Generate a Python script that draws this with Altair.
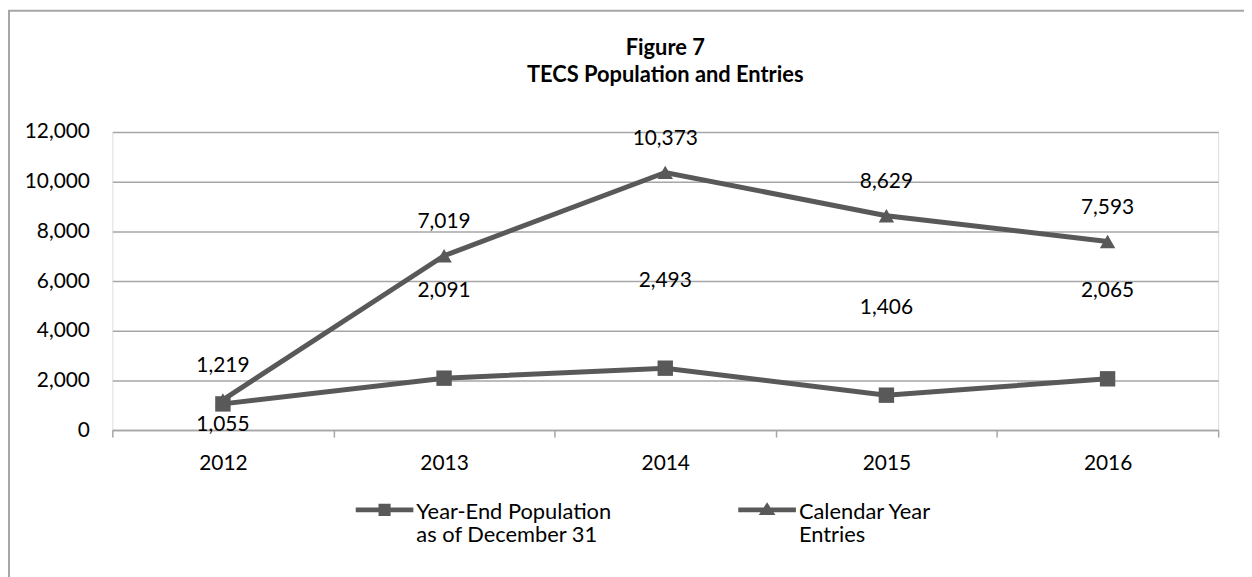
import altair as alt
import pandas as pd

# ---- data ----
years = ["2012", "2013", "2014", "2015", "2016"]
population = [1055, 2091, 2493, 1406, 2065]
entries = [1219, 7019, 10373, 8629, 7593]
series_names = ["Year-End Population as of December 31", "Calendar Year Entries"]
y_ticks = [0, 2000, 4000, 6000, 8000, 10000, 12000]
title_lines = ["Figure 7", "TECS Population and Entries"]

rows = []
for yr, p, e in zip(years, population, entries):
    rows.append({"year": yr, "series": series_names[0], "value": p})
    rows.append({"year": yr, "series": series_names[1], "value": e})
df = pd.DataFrame(rows)

FONT = "Lato"
GRAY = "#595959"
GRID = "#a6a6a6"
FS = 21

# legend symbols: a thick line with a marker on it, drawn as filled shapes
# (path units: 1 unit = 29 px)
SQ_PATH = "M-1,-0.146H1V0.026H-1Z M-0.21,-0.27H0.21V0.15H-0.21Z"
TRI_PATH = "M-1,-0.146H1V0.026H-1Z M0,-0.32L0.29,0.12H-0.29Z"

x = alt.X(
    "year:O", title=None, bandPosition=0.5,
    scale=alt.Scale(type="band", paddingInner=0, paddingOuter=0),
    axis=alt.Axis(labelAngle=0, tickBand="extent", domainColor=GRID, domainWidth=1.5,
                  tickColor=GRID, tickWidth=1.5, tickSize=7, labelPadding=16,
                  labelFontSize=FS, labelFont=FONT, labelColor="#000", grid=False),
)
y = alt.Y(
    "value:Q", title=None,
    scale=alt.Scale(domain=[0, 12000], nice=False),
    axis=alt.Axis(values=y_ticks, format=",d", domain=False, ticks=False, labelPadding=23,
                  gridColor=GRID, gridWidth=1.5, labelFontSize=FS, labelFont=FONT,
                  labelColor="#000"),
)

legend = alt.Legend(
    title=None, orient="none", legendX=245, legendY=353, direction="horizontal",
    labelExpr="datum.label == 'Calendar Year Entries' ? ['Calendar Year', 'Entries'] : ['Year-End Population', 'as of December 31']",
    labelFont=FONT, labelFontSize=22, labelColor="#000", labelLimit=0, labelOffset=3,
    labelBaseline="middle",
    symbolSize=3364, symbolStrokeWidth=0, symbolFillColor=GRAY,
    symbolOpacity=1, columnPadding=127, padding=0,
)

base = alt.Chart(df)

frame = alt.Chart(pd.DataFrame({"k": [0]})).mark_rect(
    color="transparent", stroke=GRID, strokeWidth=2, clip=False
).encode(x=alt.value(-104), y=alt.value(-122), x2=alt.value(1300), y2=alt.value(700))

lines = base.mark_line(strokeWidth=5, color=GRAY).encode(
    x=x, y=y, detail="series:N",
)

points = base.mark_point(filled=True, opacity=1, color=GRAY).encode(
    x=x, y=y,
    shape=alt.Shape("series:N", scale=alt.Scale(domain=series_names, range=["square", "triangle-up"]), legend=None),
    size=alt.value(240),
)

legend_layer = base.transform_filter("false").mark_point(
    filled=True, opacity=1, color=GRAY
).encode(
    x=x, y=y,
    shape=alt.Shape("series:N", scale=alt.Scale(domain=series_names, range=[SQ_PATH, TRI_PATH]), legend=legend),
)

text_common = dict(font=FONT, fontSize=FS, color="#000", baseline="middle", align="center")

entries_text = base.transform_filter(
    alt.datum.series == series_names[1]
).mark_text(dy=-34, **text_common).encode(x=x, y=y, text=alt.Text("value:Q", format=","))

pop_text = base.transform_filter(
    (alt.datum.series == series_names[0]) & (alt.datum.year != years[0])
).mark_text(dy=-88, **text_common).encode(x=x, y=y, text=alt.Text("value:Q", format=","))

pop_text_first = base.transform_filter(
    (alt.datum.series == series_names[0]) & (alt.datum.year == years[0])
).mark_text(dy=21, **text_common).encode(x=x, y=y, text=alt.Text("value:Q", format=","))

chart = alt.layer(frame, lines, points, legend_layer, entries_text, pop_text, pop_text_first).resolve_scale(
    shape="independent"
).properties(
    width=1113, height=300,
    title=alt.TitleParams(text=title_lines, fontSize=22, fontWeight="bold", font=FONT,
                          color="#000", anchor="middle", offset=-78, lineHeight=28,
                          frame="group"),
    padding={"left": 105, "top": 123, "right": 26, "bottom": 146},
    autosize=alt.AutoSizeParams(type="none"),
).configure_view(stroke=None).configure(background="white")

chart.save("out.html", embed_options={"renderer": "svg", "actions": False})
